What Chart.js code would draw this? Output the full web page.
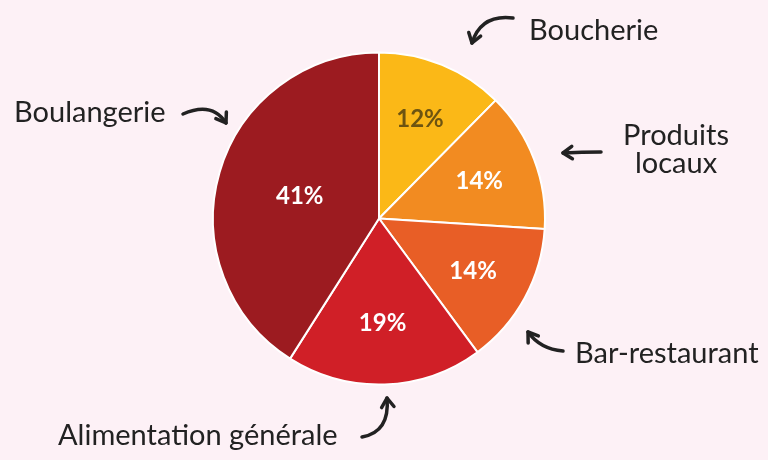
<!DOCTYPE html>
<html>
<head>
<meta charset="utf-8">
<script src="https://cdn.jsdelivr.net/npm/chart.js@4.4.1/dist/chart.umd.min.js"></script>
<style>
  html, body { margin: 0; padding: 0; background: #fdf1f6; }
  #wrap { width: 768px; height: 460px; }
</style>
</head>
<body>
<div id="wrap"><canvas id="pieChart" width="768" height="460"></canvas></div>
<script>
// --- Data ---
const categories = ["Boucherie", "Produits locaux", "Bar-restaurant", "Alimentation générale", "Boulangerie"];
const shares = [12.4, 13.6, 13.9, 19.1, 41.0];
const shareLabels = ["12%", "14%", "14%", "19%", "41%"];

// --- Styles ---
const sliceColors = ["#fbb817", "#f28b21", "#e85e26", "#d01f27", "#9c1b20"];
const labelColors = ["#6d5411", "#ffffff", "#ffffff", "#ffffff", "#ffffff"];
const handFont = "29px Lato";
const inkColor = "#222222";

// callout layout: where each category name goes and its arrow (start, control, tip)
const callouts = [
    {lines: ["Boucherie"], x: 529, y: 40, align: "left", arrow: [[513, 18], [481, 14], [472, 43]]},
    {lines: ["Produits", "locaux"], x: 676, y: 145, align: "center", arrow: [[601, 152], [582, 152], [563, 153]]},
    {lines: ["Bar-restaurant"], x: 575, y: 363, align: "left", arrow: [[563, 351], [540, 349], [528, 332]]},
    {lines: ["Alimentation générale"], x: 58, y: 445, align: "left", arrow: [[362, 437], [390, 432], [387, 398]]},
    {lines: ["Boulangerie"], x: 14, y: 122, align: "left", arrow: [[183, 114], [212, 101], [226, 123]]}
];

// percentage labels at each slice's centroid
const sliceLabels = {
    id: "sliceLabels",
    afterDatasetsDraw(chart) {
        const ctx = chart.ctx;
        const meta = chart.getDatasetMeta(0);
        ctx.save();
        ctx.font = "bold 24px Lato";
        ctx.textAlign = "center";
        ctx.textBaseline = "middle";
        meta.data.forEach((arc, i) => {
            const theta = arc.endAngle - arc.startAngle;
            const mid = (arc.startAngle + arc.endAngle) / 2;
            const d = 4 * arc.outerRadius * Math.sin(theta / 2) / (3 * theta);
            ctx.fillStyle = labelColors[i];
            ctx.fillText(shareLabels[i], arc.x + d * Math.cos(mid), arc.y + d * Math.sin(mid) + 1);
        });
        ctx.restore();
    }
};

// hand-drawn style names with arrows
const calloutPlugin = {
    id: "callouts",
    afterDraw(chart) {
        const ctx = chart.ctx;
        ctx.save();
        ctx.fillStyle = inkColor;
        ctx.strokeStyle = inkColor;
        ctx.font = handFont;
        ctx.textBaseline = "alphabetic";
        callouts.forEach(c => {
            ctx.textAlign = c.align;
            c.lines.forEach((line, k) => ctx.fillText(line, c.x, c.y + k * 28));

            const [s, m, e] = c.arrow;
            ctx.lineWidth = 3.5;
            ctx.lineCap = "round";
            ctx.lineJoin = "round";
            ctx.beginPath();
            ctx.moveTo(s[0], s[1]);
            ctx.quadraticCurveTo(m[0], m[1], e[0], e[1]);
            ctx.stroke();

            // arrow head
            const ang = Math.atan2(e[1] - m[1], e[0] - m[0]);
            const len = 11;
            ctx.beginPath();
            ctx.moveTo(e[0] - len * Math.cos(ang - 0.6), e[1] - len * Math.sin(ang - 0.6));
            ctx.lineTo(e[0], e[1]);
            ctx.lineTo(e[0] - len * Math.cos(ang + 0.6), e[1] - len * Math.sin(ang + 0.6));
            ctx.stroke();
        });
        ctx.restore();
    }
};

new Chart(document.getElementById("pieChart"), {
    type: "pie",
    data: {
        labels: categories,
        datasets: [{
            data: shares,
            backgroundColor: sliceColors,
            borderColor: "#ffffff",
            borderWidth: 2,
            hoverOffset: 0
        }]
    },
    options: {
        responsive: false,
        animation: false,
        layout: {padding: {left: 212, right: 222, top: 51, bottom: 74}},
        plugins: {legend: {display: false}, tooltip: {enabled: false}}
    },
    plugins: [sliceLabels, calloutPlugin]
});
</script>
</body>
</html>
